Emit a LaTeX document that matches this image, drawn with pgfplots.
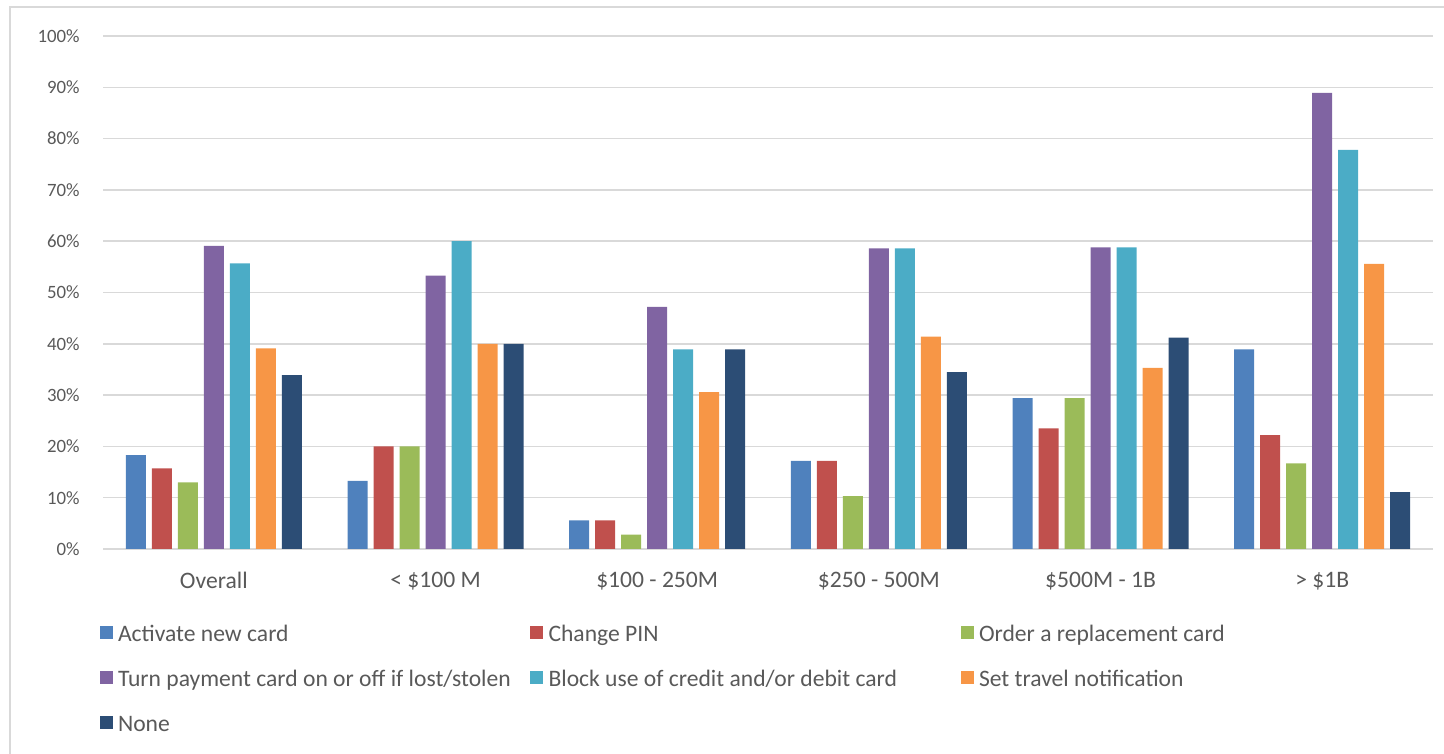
\documentclass[border=0pt]{standalone}
\usepackage{pgfplots}
\pgfplotsset{compat=1.18}
\usepackage{fontspec}
\setmainfont{Carlito}
\definecolor{cA}{HTML}{4F81BD}
\definecolor{cB}{HTML}{C0504D}
\definecolor{cC}{HTML}{9BBB59}
\definecolor{cD}{HTML}{8064A2}
\definecolor{cE}{HTML}{4BACC6}
\definecolor{cF}{HTML}{F79646}
\definecolor{cG}{HTML}{2C4D75}
\definecolor{txt}{HTML}{595959}
\definecolor{gridc}{HTML}{D9D9D9}
\newcommand{\lf}{\fontsize{9.4bp}{11bp}\selectfont}
\newcommand{\bigf}{\fontsize{11.8bp}{14bp}\selectfont}
\begin{document}
\begin{tikzpicture}
\useasboundingbox (0,0) rectangle (722bp,377bp);
\draw[gridc, line width=0.75bp] (5bp,0) -- (5bp,373.5bp) -- (722bp,373.5bp);
\begin{axis}[
  at={(51.5bp,102.5bp)}, anchor=south west,
  width=665bp, height=256.5bp, scale only axis,
  ybar=3bp, bar width=10bp,
  xmin=-0.5, xmax=5.5, ymin=0, ymax=100,
  xtick={0,1,2,3,4,5},
  xticklabels={Overall,{< \$100 M},{\$100 - 250M},{\$250 - 500M},{\$500M - 1B},{> \$1B}},
  ytick={0,10,...,100},
  yticklabels={0\%,10\%,20\%,30\%,40\%,50\%,60\%,70\%,80\%,90\%,100\%},
  major tick length=0pt,
  axis line style={draw=none},
  ymajorgrids, grid style={gridc, line width=0.75bp},
  xticklabel style={font=\bigf, text=txt, anchor=north, inner sep=0pt, yshift=-11.5bp},
  yticklabel style={font=\lf, text=txt, anchor=east, inner sep=0pt, xshift=-11.5bp},
  legend columns=3,
  legend cell align=left,
  legend style={at={(-0.00263,-0.1462)}, anchor=north west, draw=none, fill=none,
    inner sep=0pt, outer sep=0pt, row sep=11.5bp,
    nodes={inner sep=0pt, text height=8.5bp, text depth=2.5bp, font=\bigf, text=txt},
    /tikz/every odd column/.append style={column sep=2.75bp}},
  legend image code/.code={\fill[#1] (0bp,-2bp) rectangle (6.5bp,4.5bp);},
]
\addplot[fill=cA, draw=none] coordinates {(0,18.3) (1,13.3) (2,5.6) (3,17.2) (4,29.4) (5,38.9)};
\addplot[fill=cB, draw=none] coordinates {(0,15.7) (1,20.0) (2,5.6) (3,17.2) (4,23.5) (5,22.2)};
\addplot[fill=cC, draw=none] coordinates {(0,13.0) (1,20.0) (2,2.8) (3,10.3) (4,29.4) (5,16.7)};
\addplot[fill=cD, draw=none] coordinates {(0,59.1) (1,53.3) (2,47.2) (3,58.6) (4,58.8) (5,88.9)};
\addplot[fill=cE, draw=none] coordinates {(0,55.7) (1,60.0) (2,38.9) (3,58.6) (4,58.8) (5,77.8)};
\addplot[fill=cF, draw=none] coordinates {(0,39.1) (1,40.0) (2,30.6) (3,41.4) (4,35.3) (5,55.6)};
\addplot[fill=cG, draw=none] coordinates {(0,33.9) (1,40.0) (2,38.9) (3,34.5) (4,41.2) (5,11.1)};
\legend{\makebox[206bp][l]{Activate new card},\makebox[206bp][l]{Change PIN},Order a replacement card,
  \makebox[206bp][l]{Turn payment card on or off if lost/stolen},\makebox[206bp][l]{Block use of credit and/or debit card},Set travel notification,
  None}
\end{axis}
\end{tikzpicture}
\end{document}
